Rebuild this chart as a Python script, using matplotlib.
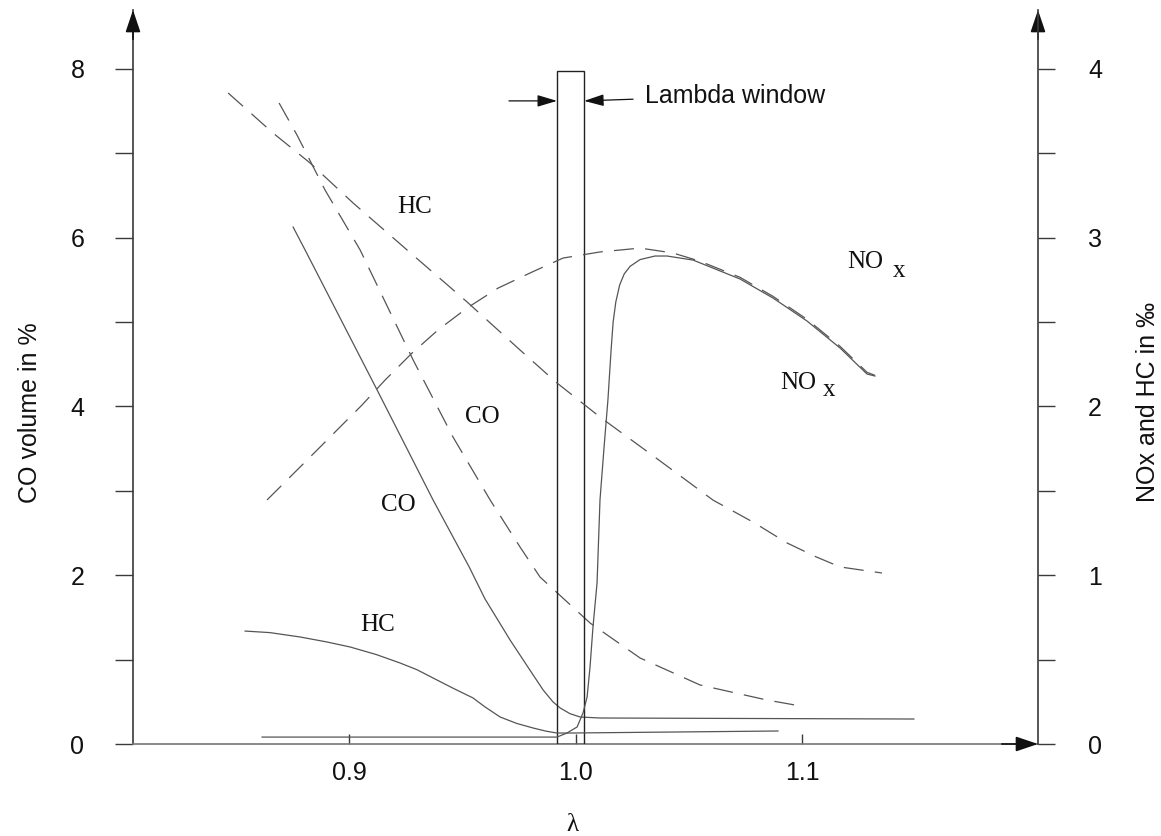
import matplotlib
matplotlib.use("Agg")
import matplotlib.pyplot as plt
from matplotlib.patches import Rectangle

plt.rcParams['font.family'] = ['Liberation Sans', 'DejaVu Sans']

# ---------------- data ----------------
# CO in % (left axis)
co_dash_lam = [0.8691, 0.8770, 0.8894, 0.9049, 0.9283, 0.9459, 0.9623, 0.9755,
               0.9843, 1.0064, 1.0285, 1.0550, 1.0845, 1.0969]
co_dash_val = [7.595, 7.216, 6.564, 5.853, 4.550, 3.637, 2.891, 2.334,
               1.979, 1.434, 1.019, 0.699, 0.521, 0.462]

co_solid_lam = [0.8753, 0.8806, 0.9124, 0.9371, 0.9530, 0.9600, 0.9711, 0.9800,
                0.9857, 0.9900, 0.9932, 0.9975, 1.0020, 1.0108, 1.1494]
co_solid_val = [6.125, 5.853, 4.194, 2.891, 2.100, 1.720, 1.232, 0.870,
                0.640, 0.500, 0.427, 0.360, 0.320, 0.308, 0.296]

# HC and NOx in per mille (right axis)
hc_dash_lam = [0.8466, 0.8664, 0.8828, 0.9018, 0.9256, 0.9521, 0.9755, 0.9918,
               1.0108, 1.0350, 1.0607, 1.0790, 1.0934, 1.1060, 1.1168, 1.1353]
hc_dash_val = [3.857, 3.620, 3.442, 3.205, 2.927, 2.619, 2.334, 2.139,
               1.937, 1.700, 1.445, 1.310, 1.191, 1.110, 1.049, 1.013]

hc_solid_lam = [0.8541, 0.8650, 0.8784, 0.8900, 0.9004, 0.9120, 0.9225, 0.9300,
                0.9371, 0.9460, 0.9547, 0.9600, 0.9667, 0.9740, 0.9812, 0.9870,
                0.9918, 0.9976, 1.0894]
hc_solid_val = [0.669, 0.660, 0.634, 0.605, 0.575, 0.530, 0.480, 0.440,
                0.391, 0.330, 0.273, 0.220, 0.160, 0.122, 0.095, 0.076,
                0.065, 0.065, 0.077]

nox_dash_lam = [0.8638, 0.8828, 0.8938, 0.9057, 0.9159, 0.9278, 0.9393, 0.9521,
                0.9658, 0.9808, 0.9945, 1.0108, 1.0285, 1.0430, 1.0550, 1.0726,
                1.0872, 1.1022, 1.1168, 1.1287, 1.1322]
nox_dash_val = [1.446, 1.700, 1.848, 2.008, 2.156, 2.316, 2.453, 2.583,
                2.701, 2.796, 2.879, 2.915, 2.938, 2.909, 2.860, 2.765,
                2.652, 2.516, 2.356, 2.202, 2.184]

nox_solid_lam = [0.8616, 0.9887, 0.9918, 0.9962, 1.0007, 1.0033, 1.0051, 1.0064,
                 1.0077, 1.0095, 1.0108, 1.0126, 1.0143, 1.0157, 1.0166, 1.0178,
                 1.0195, 1.0215, 1.0241, 1.0285, 1.0351, 1.0404, 1.0519, 1.0726,
                 1.0872, 1.1022, 1.1168, 1.1287, 1.1322]
nox_solid_val = [0.041, 0.041, 0.041, 0.065, 0.101, 0.184, 0.278, 0.456,
                 0.693, 0.954, 1.446, 1.759, 2.038, 2.334, 2.500, 2.620,
                 2.720, 2.785, 2.830, 2.870, 2.891, 2.891, 2.867, 2.755,
                 2.642, 2.506, 2.346, 2.192, 2.180]

window_lo, window_hi, window_top = 0.9918, 1.0038, 7.98

x_ticks = [0.9, 1.0, 1.1]
x_tick_labels = ['0.9', '1.0', '1.1']
left_major = [0, 2, 4, 6, 8]
left_minor = [1, 3, 5, 7]
right_major = [0, 1, 2, 3, 4]
right_minor = [0.5, 1.5, 2.5, 3.5]

# ---------------- figure ----------------
fig = plt.figure(figsize=(11.61, 8.36), dpi=100)
ax = fig.add_axes([133 / 1161, 92 / 836, 905 / 1161, 734 / 836])
ax2 = ax.twinx()

XMIN, XMAX = 0.8046, 1.2042
YTOP = 8.697
ax.set_xlim(XMIN, XMAX)
ax.set_ylim(0, YTOP)
ax2.set_ylim(0, YTOP / 2)

curve_c = '#555555'
axis_c = '#3a3a3a'
lw = 0.9
dash = (16, 9)

ax.plot(co_dash_lam, co_dash_val, color=curve_c, lw=lw, dashes=dash)
ax.plot(co_solid_lam, co_solid_val, color=curve_c, lw=lw)
ax2.plot(hc_dash_lam, hc_dash_val, color=curve_c, lw=lw, dashes=dash)
ax2.plot(hc_solid_lam, hc_solid_val, color=curve_c, lw=lw)
ax2.plot(nox_dash_lam, nox_dash_val, color=curve_c, lw=lw, dashes=dash)
ax2.plot(nox_solid_lam, nox_solid_val, color=curve_c, lw=lw)

# lambda window
ax.add_patch(Rectangle((window_lo, 0), window_hi - window_lo, window_top,
                       fill=False, edgecolor='#222222', lw=1.0, zorder=3))
ax.annotate('', xy=(window_lo, 7.62), xytext=(0.9706, 7.62),
            arrowprops=dict(arrowstyle='-|>,head_length=1.2,head_width=0.36',
                            mutation_scale=10, color='#111111', lw=0.9,
                            shrinkA=0, shrinkB=0))
ax.annotate('', xy=(window_hi, 7.62), xytext=(1.0254, 7.64),
            arrowprops=dict(arrowstyle='-|>,head_length=1.2,head_width=0.36',
                            mutation_scale=10, color='#111111', lw=0.9,
                            shrinkA=0, shrinkB=0))
ax.text(1.0307, 7.68, 'Lambda window', fontsize=18, va='center', ha='left',
        color='#111111')

# curve labels (serif)
serif = ['Liberation Serif', 'DejaVu Serif']
lab_kw = dict(fontsize=18, family=serif, color='#111111', ha='center', va='center')
ax.text(0.9291, 6.36, 'HC', **lab_kw)
ax.text(0.9587, 3.874, 'CO', **lab_kw)
ax.text(0.9216, 2.832, 'CO', **lab_kw)
ax.text(0.9128, 1.41, 'HC', **lab_kw)
ax.text(1.1278, 5.71, 'NO', **lab_kw)
ax.text(1.1428, 5.61, 'x', **lab_kw)
ax.text(1.0985, 4.283, 'NO', **lab_kw)
ax.text(1.1119, 4.20, 'x', **lab_kw)

# spines
for s in ['top', 'right']:
    ax.spines[s].set_visible(False)
for s in ['top', 'left', 'bottom']:
    ax2.spines[s].set_visible(False)
ax.spines['left'].set_color(axis_c)
ax.spines['bottom'].set_color('#777777')
ax2.spines['right'].set_color(axis_c)
for sp in [ax.spines['left'], ax.spines['bottom'], ax2.spines['right']]:
    sp.set_linewidth(1.2)

# ticks
ax.set_xticks(x_ticks)
ax.set_xticklabels(x_tick_labels)
ax.tick_params(axis='x', direction='in', length=7, width=1, pad=12,
               labelsize=18, colors=axis_c, labelcolor='#111111')
ax.set_yticks(left_major)
ax.set_yticks(left_minor, minor=True)
ax.tick_params(axis='y', which='both', direction='out', length=13, width=1,
               pad=22, labelsize=18, colors=axis_c, labelcolor='#111111')
ax2.set_yticks(right_major)
ax2.set_yticks(right_minor, minor=True)
ax2.tick_params(axis='y', which='both', direction='out', length=12, width=1,
                pad=24, labelsize=18, colors=axis_c, labelcolor='#111111')

# axis labels
ax.set_xlabel('λ', fontsize=18, family=serif, color='#111111')
ax.xaxis.set_label_coords((572 - 133) / 905, -(825 - 744) / 734)
ax.xaxis.label.set_verticalalignment('center')
ax.set_ylabel('CO volume in %', fontsize=18, color='#111111')
ax.yaxis.set_label_coords((30 - 133) / 905, (744 - 413) / 734)
ax.yaxis.label.set_verticalalignment('center')
ax2.set_ylabel('NOx and HC in ‰', fontsize=18, color='#111111')
ax2.yaxis.set_label_coords((1148 - 133) / 905, (744 - 402) / 734)
ax2.yaxis.label.set_verticalalignment('center')

# arrow heads on axes
arrow_kw = dict(arrowstyle='-|>,head_length=0.8,head_width=0.27',
                mutation_scale=17, color='#111111', lw=1.2,
                shrinkA=0, shrinkB=0)
ax.annotate('', xy=(0, 1), xytext=(0, 0.96), xycoords='axes fraction',
            textcoords='axes fraction', arrowprops=arrow_kw, annotation_clip=False)
ax.annotate('', xy=(1, 1), xytext=(1, 0.96), xycoords='axes fraction',
            textcoords='axes fraction', arrowprops=arrow_kw, annotation_clip=False)
ax.annotate('', xy=(1, 0), xytext=(0.96, 0), xycoords='axes fraction',
            textcoords='axes fraction', arrowprops=arrow_kw, annotation_clip=False)

fig.savefig('out.png', dpi=100)
